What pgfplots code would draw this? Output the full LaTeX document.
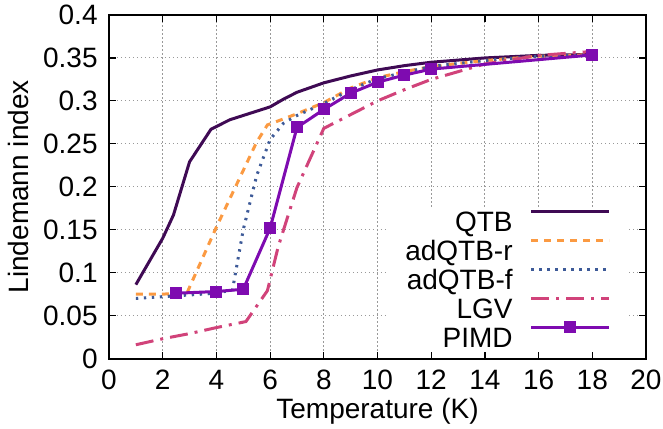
\documentclass[border=0pt]{standalone}
\usepackage{fontspec}
\setmainfont{Liberation Sans}
\usepackage{pgfplots}
\pgfplotsset{compat=1.18}
\definecolor{cQTB}{HTML}{3F0A54}
\definecolor{cR}{HTML}{FB9A42}
\definecolor{cF}{HTML}{3D5A98}
\definecolor{cLGV}{HTML}{D1437A}
\definecolor{cPIMD}{HTML}{7E0BB0}
\begin{document}
\begin{tikzpicture}[font=\fontsize{14bp}{16bp}\selectfont]
\begin{axis}[
  name=ax, at={(0,0)}, anchor=south west,
  scale only axis, width=268.5bp, height=171.75bp,
  xmin=0, xmax=20, ymin=0, ymax=0.4,
  xtick={0,2,4,6,8,10,12,14,16,18,20},
  xticklabels={0,2,4,6,8,10,12,14,16,18,20},
  ytick={0,0.05,0.1,0.15,0.2,0.25,0.3,0.35,0.4},
  yticklabels={0,0.05,0.1,0.15,0.2,0.25,0.3,0.35,0.4},
  xticklabel style={inner sep=0pt, anchor=north, yshift=-5.5bp},
  yticklabel style={inner sep=0pt, anchor=east, xshift=-5.5bp},
  grid=major,
  grid style={color=black!40, line width=0.5bp, dash pattern=on 0.6bp off 1.4bp},
  axis line style={line width=1bp},
  major tick length=3.5bp,
  tick style={black, line width=0.6bp},
  xlabel={Temperature (K)},
  ylabel={Lindemann index},
  xlabel style={at={(axis description cs:0.5,0)}, anchor=base, yshift=-29.75bp, inner sep=0pt},
  ylabel style={at={(axis description cs:-0.1508,0.5)}, rotate=0, anchor=base, inner sep=0pt},
  every axis plot/.append style={line width=1.5bp},
  legend cell align=right,
  legend plot pos=right,
  legend style={at={(0.9665,0.4425)}, anchor=north east, draw=none, fill=white,
    inner xsep=8.5bp, inner ysep=0pt, row sep=0pt, column sep=8.5bp,
    nodes={inner sep=0pt, text height=12.25bp, text depth=2.25bp}},
  legend image code/.code={\draw[mark repeat=2,mark phase=2,#1] plot coordinates {(0bp,5bp) (19.5bp,5bp) (39bp,5bp)};},
]
\addplot[color=cQTB, no marks] coordinates {
(1,0.086) (2,0.140) (2.4,0.167) (3,0.229) (3.8,0.267) (4.5,0.278) (5.3,0.286) (6,0.293) (6.5,0.302) (7,0.310) (8,0.321) (9,0.329) (10,0.336) (11,0.341) (12,0.345) (14,0.350) (16,0.353) (18,0.354)};
\addlegendentry{QTB}
\addplot[color=cR, no marks, dash pattern=on 3.5bp off 3bp] coordinates {
(1,0.075) (2,0.075) (2.9,0.076) (4,0.153) (5.5,0.252) (5.9,0.272) (6.5,0.279) (7,0.285) (8,0.298) (9,0.315) (10,0.327) (11,0.334) (12,0.340) (14,0.347) (16,0.352) (18.2,0.354)};
\addlegendentry{adQTB-r}
\addplot[color=cF, no marks, dash pattern=on 1.2bp off 2.8bp] coordinates {
(1,0.070) (2,0.072) (3,0.074) (4,0.076) (4.6,0.080) (5,0.150) (5.5,0.213) (6,0.255) (6.5,0.274) (7,0.283) (8,0.297) (9,0.313) (10,0.326) (11,0.333) (12,0.340) (14,0.347) (16,0.352) (18.2,0.354)};
\addlegendentry{adQTB-f}
\addplot[color=cLGV, no marks, dash pattern=on 9bp off 3.5bp on 1.5bp off 3.5bp] coordinates {
(1,0.016) (2,0.023) (3,0.029) (4,0.036) (5.1,0.043) (5.9,0.079) (6.3,0.130) (7,0.199) (8,0.268) (9,0.284) (10,0.300) (11,0.313) (12,0.325) (14,0.343) (16,0.353) (18.2,0.358)};
\addlegendentry{LGV}
\addplot[color=cPIMD, mark=square*, mark size=2.25bp, mark options={solid}] coordinates {
(2.5,0.076) (4,0.078) (5,0.0806) (6,0.1517) (7,0.269) (8,0.290) (9,0.309) (10,0.3217) (11,0.330) (12,0.337) (18,0.3535)};
\addlegendentry{PIMD}
\end{axis}
\pgfresetboundingbox
\path[use as bounding box] (-54.5bp,-35.25bp) rectangle (277bp,179.25bp);
\end{tikzpicture}
\end{document}
